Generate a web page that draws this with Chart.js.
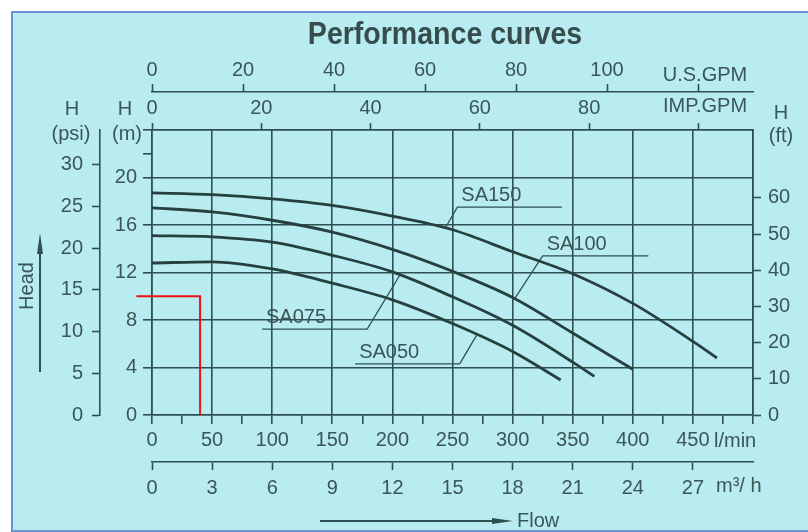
<!DOCTYPE html>
<html>
<head>
<meta charset="utf-8">
<script src="https://cdn.jsdelivr.net/npm/chart.js@4.4.1/dist/chart.umd.min.js"></script>
<style>
  html, body { margin: 0; padding: 0; background: #ffffff; }
  #wrap { position: relative; width: 808px; height: 532px; overflow: hidden; }
  #panel { position: absolute; left: 11px; top: 11px; width: 820px; height: 517px;
           background: #b9ecf1; border: 2px solid #6b93d6; }
  #c { position: absolute; left: 0; top: 0; }
</style>
</head>
<body>
<div id="wrap">
  <div id="panel"></div>
  <canvas id="c" width="808" height="532"></canvas>
</div>
<script>
// ---- Pump curves: flow (l/min) against head (m) ----
const chartTitle = 'Performance curves';
const seriesNames = ['SA150', 'SA100', 'SA075', 'SA050'];

const flowSA150 = [0, 50, 100, 150, 200, 250, 300, 350, 400, 450, 470];
const headSA150 = [18.7, 18.55, 18.2, 17.65, 16.75, 15.6, 13.75, 11.9, 9.4, 6.2, 4.8];

const flowSA100 = [0, 50, 100, 150, 200, 250, 300, 350, 400];
const headSA100 = [17.45, 17.1, 16.4, 15.4, 13.95, 12.1, 9.9, 6.9, 3.85];

const flowSA075 = [0, 50, 100, 150, 200, 250, 300, 350, 368];
const headSA075 = [15.1, 15.0, 14.55, 13.45, 12.05, 9.95, 7.55, 4.45, 3.25];

const flowSA050 = [0, 50, 100, 150, 200, 250, 300, 340];
const headSA050 = [12.8, 12.9, 12.3, 11.1, 9.7, 7.7, 5.35, 2.95];

// Duty point guide (red): flow in l/min, head in m
const dutyFlow = [-13, 40, 40];
const dutyHead = [10, 10, 0];

// Tick labels of each scale
const lpmTicks    = [0, 50, 100, 150, 200, 250, 300, 350, 400, 450];
const m3hTicks    = [0, 3, 6, 9, 12, 15, 18, 21, 24, 27];
const usGpmTicks  = [0, 20, 40, 60, 80, 100];
const impGpmTicks = [0, 20, 40, 60, 80];
const headMTicks  = [0, 4, 8, 12, 16, 20];
const psiTicks    = [0, 5, 10, 15, 20, 25, 30];
const ftTicks     = [0, 10, 20, 30, 40, 50, 60];

// Axis ranges and unit conversions
const FLOW_MAX = 500;          // l/min
const HEAD_MAX = 24;           // m
const M_PER_PSI = 0.70307;
const M_PER_FT = 0.3048;
const LPM_PER_USGAL = 3.78541;
const LPM_PER_IMPGAL = 4.54609;
const LPM_PER_M3H = 1000 / 60;

// Leader lines from the series captions to their curves (flow, head)
const labelLeaders = {
  SA150: [[341, 17.5], [254, 17.5], [244, 15.75]],
  SA100: [[413, 13.4], [325, 13.4], [302, 9.85]],
  SA075: [[91.5, 7.24], [179, 7.24], [206, 11.75]],
  SA050: [[169, 4.3], [256, 4.3], [270, 6.7]]
};

// ---- Styling ----
const GRID = '#2f5052';
const CURVE = '#26403f';
const TEXT = '#3a5657';
const FONT = '"Liberation Sans", Arial, sans-serif';

Chart.defaults.font.family = FONT;
Chart.defaults.font.size = 20;
Chart.defaults.color = TEXT;

const flows = [flowSA150, flowSA100, flowSA075, flowSA050];
const heads = [headSA150, headSA100, headSA075, headSA050];
const toPoints = (xs, ys) => xs.map((v, i) => ({ x: v, y: ys[i] }));

const curveSets = seriesNames.map((name, i) => ({
  label: name,
  data: toPoints(flows[i], heads[i]),
  borderColor: CURVE,
  borderWidth: 2.8,
  pointRadius: 0,
  cubicInterpolationMode: 'monotone',
  fill: false
}));

const leaderSets = seriesNames.map(name => ({
  label: name + ' leader',
  data: labelLeaders[name].map(p => ({ x: p[0], y: p[1] })),
  borderColor: GRID,
  borderWidth: 1.3,
  pointRadius: 0,
  tension: 0,
  fill: false
}));

const dutySet = {
  label: 'duty',
  data: toPoints(dutyFlow, dutyHead),
  borderColor: '#ee1111',
  borderWidth: 2,
  pointRadius: 0,
  tension: 0,
  clip: false,
  fill: false
};

const setTicks = values => scale => { scale.ticks = values.map(v => ({ value: v })); };
const range = (a, b, step) => { const r = []; for (let v = a; v <= b + 1e-9; v += step) r.push(v); return r; };
const onlyIn = list => v => (list.includes(v) ? String(v) : '');
const fixW = w => s => { s.width = w; };
const fixH = h => s => { s.height = h; };

// Title, captions, unit names and flow/head arrows
const decorations = {
  id: 'decorations',
  afterDraw(chart) {
    const ctx = chart.ctx;
    const sx = chart.scales.x, sy = chart.scales.y;
    ctx.save();

    // heading, slightly condensed bold
    ctx.save();
    ctx.fillStyle = '#364c4d';
    ctx.font = 'bold 31px ' + FONT;
    ctx.textAlign = 'center';
    ctx.textBaseline = 'middle';
    ctx.translate(445, 35);
    ctx.scale(0.92, 1);
    ctx.fillText(chartTitle, 0, 0);
    ctx.restore();

    ctx.fillStyle = TEXT;
    ctx.strokeStyle = GRID;
    ctx.font = '20px ' + FONT;
    ctx.textAlign = 'center';
    ctx.textBaseline = 'middle';

    // unit headings
    ctx.fillText('H', 72, 109);
    ctx.fillText('(psi)', 71, 134);
    ctx.fillText('H', 125, 109);
    ctx.fillText('(m)', 127, 134);
    ctx.fillText('H', 781, 113);
    ctx.fillText('(ft)', 781, 136);
    ctx.fillText('U.S.GPM', 705, 75);
    ctx.fillText('IMP.GPM', 705, 106);
    ctx.textAlign = 'left';
    ctx.fillText('l/min', 714, 441);
    ctx.fillText('m\u00B3/ h', 716, 486);

    // series captions on their leader lines
    seriesNames.forEach(name => {
      const pts = labelLeaders[name];
      const left = Math.min(sx.getPixelForValue(pts[0][0]), sx.getPixelForValue(pts[1][0]));
      const yy = sy.getPixelForValue(pts[1][1]);
      ctx.fillText(name, left + 4, yy - 11.5);
    });

    // Flow arrow
    ctx.lineWidth = 2;
    ctx.beginPath();
    ctx.moveTo(320, 521); ctx.lineTo(496, 521);
    ctx.stroke();
    ctx.beginPath();
    ctx.moveTo(513, 521); ctx.lineTo(492, 518); ctx.lineTo(492, 524); ctx.closePath();
    ctx.fillStyle = GRID; ctx.fill();
    ctx.fillStyle = TEXT;
    ctx.fillText('Flow', 517, 521);

    // Head arrow
    ctx.beginPath();
    ctx.moveTo(40, 372); ctx.lineTo(40, 250);
    ctx.stroke();
    ctx.beginPath();
    ctx.moveTo(40, 233); ctx.lineTo(37, 254); ctx.lineTo(43, 254); ctx.closePath();
    ctx.fillStyle = GRID; ctx.fill();
    ctx.fillStyle = TEXT;
    ctx.translate(27, 286);
    ctx.rotate(-Math.PI / 2);
    ctx.textAlign = 'center';
    ctx.fillText('Head', 0, 0);
    ctx.restore();
  }
};

new Chart(document.getElementById('c'), {
  type: 'line',
  data: { datasets: [...curveSets, ...leaderSets, dutySet] },
  plugins: [decorations],
  options: {
    responsive: false,
    animation: false,
    events: [],
    layout: { padding: { top: 51.6, left: 40, right: 10, bottom: 27 } },
    plugins: {
      legend: { display: false },
      tooltip: { enabled: false },
      title: { display: false }
    },
    scales: {
      // flow, l/min (bottom)
      x: {
        type: 'linear', position: 'bottom', min: 0, max: FLOW_MAX, weight: 0,
        afterBuildTicks: setTicks(range(0, FLOW_MAX, 25)),
        afterFit: fixH(47),
        ticks: { autoSkip: false, maxRotation: 0, padding: 4, callback: onlyIn(lpmTicks) },
        grid: {
          color: c => (c.tick && c.tick.value % 50 === 0 ? GRID : 'rgba(0,0,0,0)'),
          tickColor: GRID, lineWidth: 1.6, tickWidth: 1.6, tickLength: 9
        },
        border: { display: true, color: GRID, width: 1.6 }
      },
      // flow, m3/h (bottom, outer)
      xM3h: {
        type: 'linear', position: 'bottom', min: 0, max: FLOW_MAX / LPM_PER_M3H, weight: 1,
        afterBuildTicks: setTicks(m3hTicks),
        afterFit: fixH(43),
        ticks: { autoSkip: false, maxRotation: 0, padding: 6, callback: onlyIn(m3hTicks) },
        grid: { drawOnChartArea: false, color: GRID, tickColor: GRID, tickWidth: 1.6, tickLength: 8 },
        border: { display: true, color: GRID, width: 1.6 }
      },
      // flow, IMP gallons per minute (top, inner)
      xImp: {
        type: 'linear', position: 'top', min: 0, max: FLOW_MAX / LPM_PER_IMPGAL, weight: 0,
        afterBuildTicks: setTicks([...impGpmTicks, 100]),
        afterFit: fixH(38),
        ticks: { autoSkip: false, maxRotation: 0, padding: 3, callback: onlyIn(impGpmTicks) },
        grid: { drawOnChartArea: false, color: GRID, tickColor: GRID, tickWidth: 1.6, tickLength: 7 },
        border: { display: true, color: GRID, width: 1.6 }
      },
      // flow, US gallons per minute (top, outer)
      xUs: {
        type: 'linear', position: 'top', min: 0, max: FLOW_MAX / LPM_PER_USGAL, weight: 1,
        afterBuildTicks: setTicks([...usGpmTicks, 120]),
        afterFit: fixH(40.4),
        ticks: { autoSkip: false, maxRotation: 0, padding: 2, callback: onlyIn(usGpmTicks) },
        grid: { drawOnChartArea: false, color: GRID, tickColor: GRID, tickWidth: 1.6, tickLength: 8 },
        border: { display: true, color: GRID, width: 1.6 }
      },
      // head, m (left, inner)
      y: {
        type: 'linear', position: 'left', min: 0, max: HEAD_MAX, weight: 0,
        afterBuildTicks: setTicks([...headMTicks, 22, 24]),
        afterFit: fixW(52),
        ticks: { autoSkip: false, padding: 6, callback: onlyIn(headMTicks) },
        grid: {
          color: c => (c.tick && c.tick.value === 22 ? 'rgba(0,0,0,0)' : GRID),
          tickColor: GRID, lineWidth: 1.6, tickWidth: 1.6, tickLength: 9
        },
        border: { display: true, color: GRID, width: 1.6 }
      },
      // head, psi (left, outer)
      yPsi: {
        type: 'linear', position: 'left', min: 0, max: HEAD_MAX / M_PER_PSI, weight: 1,
        afterBuildTicks: setTicks(psiTicks),
        afterFit: fixW(60),
        ticks: { autoSkip: false, padding: 9, callback: onlyIn(psiTicks) },
        grid: { drawOnChartArea: false, color: GRID, tickColor: GRID, tickWidth: 1.6, tickLength: 8 },
        border: { display: true, color: GRID, width: 1.6 }
      },
      // head, ft (right)
      yFt: {
        type: 'linear', position: 'right', min: 0, max: HEAD_MAX / M_PER_FT, weight: 0,
        afterBuildTicks: setTicks(ftTicks),
        afterFit: fixW(45),
        ticks: { autoSkip: false, padding: 7, callback: onlyIn(ftTicks) },
        grid: { drawOnChartArea: false, color: GRID, tickColor: GRID, tickWidth: 1.6, tickLength: 8 },
        border: { display: true, color: GRID, width: 1.6 }
      }
    }
  }
});
</script>
</body>
</html>
